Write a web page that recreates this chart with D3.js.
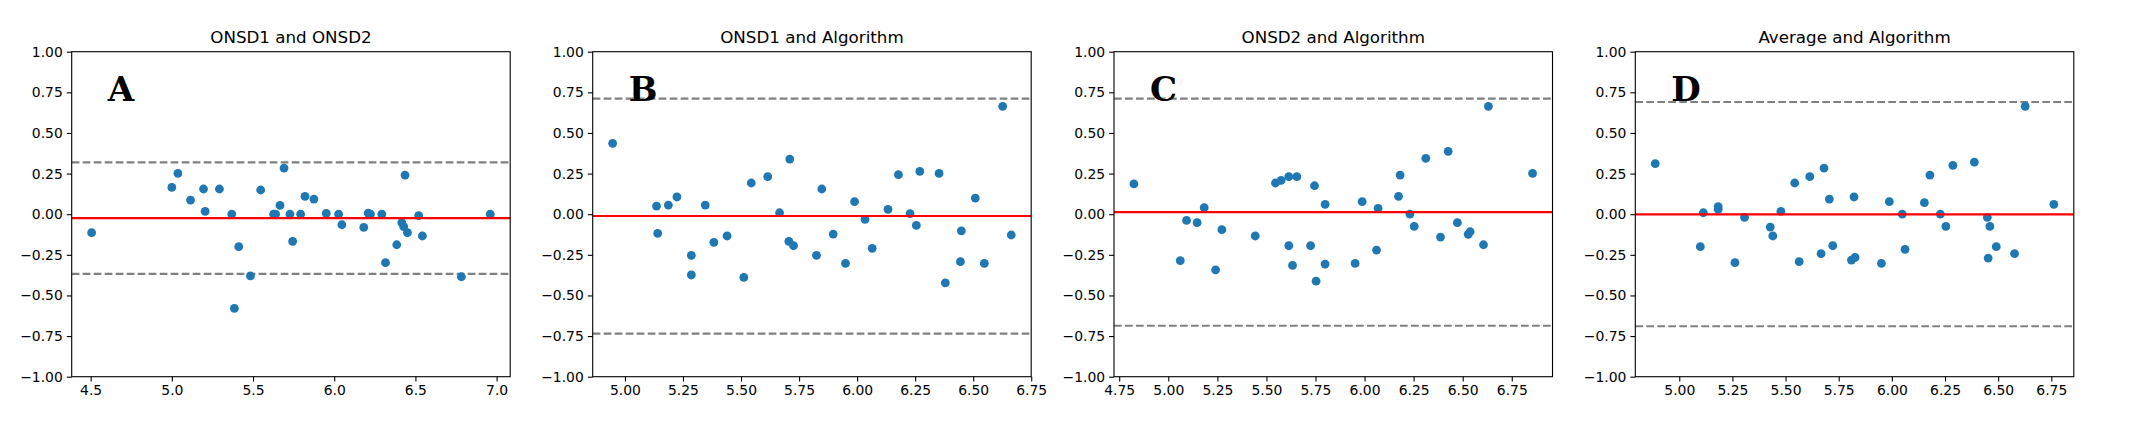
<!DOCTYPE html>
<html>
<head>
<meta charset="utf-8">
<script src="https://cdn.jsdelivr.net/npm/d3@7"></script>
<style>
  body { margin: 0; background: #fff; }
  svg { display: block; font-family: "DejaVu Sans", sans-serif; }
</style>
</head>
<body>
<svg id="chart" width="2130" height="424"></svg>
<script>
// Bland-Altman style panels: mean of two measurements (x) vs difference (y)
const titles = ['ONSD1 and ONSD2', 'ONSD1 and Algorithm', 'ONSD2 and Algorithm', 'Average and Algorithm'];
const letters = ['A', 'B', 'C', 'D'];

const meanA = [4.506, 5.000, 5.037, 5.115, 5.195, 5.205, 5.293, 5.369, 5.412, 5.385, 5.484, 5.547, 5.627, 5.639,
  5.666, 5.691, 5.727, 5.744, 5.793, 5.820, 5.875, 5.951, 6.027, 6.047, 6.182, 6.209, 6.223, 6.293, 6.316,
  6.385, 6.416, 6.428, 6.436, 6.451, 6.520, 6.543, 6.783, 6.961];
const diffA = [-0.114, 0.165, 0.251, 0.087, 0.155, 0.017, 0.155, 0.001, -0.200, -0.579, -0.380, 0.149, 0.0, 0.0,
  0.054, 0.284, 0.0, -0.167, 0.0, 0.110, 0.093, 0.005, 0.0, -0.065, -0.081, 0.007, 0.0, 0.0, -0.298,
  -0.188, -0.052, -0.077, 0.241, -0.114, -0.009, -0.134, -0.385, 0.0];

const meanB = [4.947, 5.136, 5.141, 5.187, 5.224, 5.286, 5.286, 5.346, 5.383, 5.440, 5.512, 5.544, 5.615, 5.666,
  5.706, 5.710, 5.726, 5.825, 5.848, 5.897, 5.950, 5.989, 6.034, 6.065, 6.133, 6.178, 6.228, 6.255, 6.270,
  6.353, 6.380, 6.445, 6.449, 6.509, 6.548, 6.627, 6.664];
const diffB = [0.436, 0.050, -0.118, 0.056, 0.106, -0.253, -0.374, 0.056, -0.173, -0.134, -0.389, 0.192, 0.231, 0.009,
  -0.167, 0.339, -0.194, -0.253, 0.155, -0.122, -0.303, 0.077, -0.032, -0.210, 0.030, 0.243, 0.003, -0.069, 0.263,
  0.251, -0.422, -0.292, -0.102, 0.099, -0.303, 0.664, -0.128];

const meanC = [4.825, 5.061, 5.093, 5.147, 5.183, 5.241, 5.273, 5.443, 5.546, 5.575, 5.614, 5.614, 5.633, 5.655,
  5.725, 5.745, 5.753, 5.799, 5.799, 5.952, 5.988, 6.061, 6.069, 6.173, 6.181, 6.231, 6.253, 6.312, 6.387,
  6.426, 6.473, 6.528, 6.538, 6.606, 6.631, 6.856];
const diffC = [0.186, -0.286, -0.038, -0.052, 0.040, -0.342, -0.095, -0.134, 0.192, 0.208, 0.231, -0.194, -0.315, 0.231,
  -0.194, 0.175, -0.412, 0.061, -0.307, -0.303, 0.077, -0.221, 0.036, 0.110, 0.241, 0.001, -0.075, 0.344, -0.141,
  0.387, -0.052, -0.124, -0.108, -0.188, 0.664, 0.251];

const meanD = [4.887, 5.099, 5.113, 5.183, 5.183, 5.262, 5.307, 5.428, 5.440, 5.478, 5.543, 5.564, 5.614, 5.667,
  5.681, 5.706, 5.722, 5.810, 5.827, 5.822, 5.951, 5.988, 6.049, 6.062, 6.153, 6.179, 6.228, 6.254, 6.287,
  6.388, 6.449, 6.453, 6.461, 6.491, 6.577, 6.627, 6.762];
const diffD = [0.311, -0.200, 0.009, 0.046, 0.030, -0.298, -0.019, -0.079, -0.134, 0.017, 0.192, -0.292, 0.231, -0.243,
  0.284, 0.093, -0.194, -0.282, -0.266, 0.106, -0.303, 0.077, 0.001, -0.216, 0.071, 0.241, 0.001, -0.075, 0.301,
  0.321, -0.019, -0.270, -0.075, -0.200, -0.243, 0.664, 0.061];

// bias and limits of agreement
const bias = [-0.024, -0.011, 0.013, -0.001];
const loaUpper = [0.319, 0.711, 0.711, 0.690];
const loaLower = [-0.367, -0.735, -0.686, -0.690];

const xTicksA = [4.5, 5.0, 5.5, 6.0, 6.5, 7.0];
const xTicksB = [5.0, 5.25, 5.5, 5.75, 6.0, 6.25, 6.5, 6.75];
const xTicksC = [4.75, 5.0, 5.25, 5.5, 5.75, 6.0, 6.25, 6.5, 6.75];
const xTicksD = [5.0, 5.25, 5.5, 5.75, 6.0, 6.25, 6.5, 6.75];
const yTicks = [-1.0, -0.75, -0.5, -0.25, 0.0, 0.25, 0.5, 0.75, 1.0];

const panels = [
  { x: meanA, y: diffA, ticks: xTicksA, fmt: '.1f' },
  { x: meanB, y: diffB, ticks: xTicksB, fmt: '.2f' },
  { x: meanC, y: diffC, ticks: xTicksC, fmt: '.2f' },
  { x: meanD, y: diffD, ticks: xTicksD, fmt: '.2f' }
];

const svg = d3.select('#chart');
const lefts = [71.7, 592.7, 1114, 1635.3];
const plotTop = 51.7, w = 438.5, h = 325;

panels.forEach((p, i) => {
  const g = svg.append('g').attr('transform', `translate(${lefts[i]},${plotTop})`);

  // matplotlib-like 5% margins on x
  const [lo, hi] = d3.extent(p.x);
  const pad = (hi - lo) * 0.05;
  const xScale = d3.scaleLinear().domain([lo - pad, hi + pad]).range([0, w]);
  const yScale = d3.scaleLinear().domain([-1, 1]).range([h, 0]);

  const xAxis = g.append('g')
    .attr('transform', `translate(0,${h})`)
    .call(d3.axisBottom(xScale).tickValues(p.ticks).tickFormat(d3.format(p.fmt)).tickSizeOuter(0).tickSize(4.9).tickPadding(4));
  const yAxis = g.append('g')
    .call(d3.axisLeft(yScale).tickValues(yTicks).tickFormat(d3.format('.2f')).tickSizeOuter(0).tickSize(4.9).tickPadding(4));
  [xAxis, yAxis].forEach(a => {
    a.select('.domain').remove();
    a.selectAll('line').attr('stroke', '#000').attr('stroke-width', 1.1);
    a.selectAll('text').attr('font-size', 13.9).attr('fill', '#000').attr('font-family', '"DejaVu Sans", sans-serif');
  });
  yAxis.selectAll('text').text(d => d3.format('.2f')(d).replace('-', '\u2212'));

  // limits of agreement
  [loaUpper[i], loaLower[i]].forEach(v => {
    g.append('line')
      .attr('x1', 0).attr('x2', w)
      .attr('y1', yScale(v)).attr('y2', yScale(v))
      .attr('stroke', '#808080').attr('stroke-width', 2.08)
      .attr('stroke-dasharray', '7.7,3.3');
  });

  g.selectAll('circle')
    .data(d3.zip(p.x, p.y))
    .join('circle')
    .attr('cx', d => xScale(d[0]))
    .attr('cy', d => yScale(d[1]))
    .attr('r', 4.4)
    .attr('fill', '#1f77b4');

  g.append('line')
    .attr('x1', 0).attr('x2', w)
    .attr('y1', yScale(bias[i])).attr('y2', yScale(bias[i]))
    .attr('stroke', 'red').attr('stroke-width', 2.08);

  g.append('rect')
    .attr('width', w).attr('height', h)
    .attr('fill', 'none').attr('stroke', '#000').attr('stroke-width', 1.1);

  g.append('text')
    .attr('x', w / 2).attr('y', -8.5)
    .attr('text-anchor', 'middle')
    .attr('font-size', 16.7)
    .text(titles[i]);

  g.append('text')
    .attr('x', 36).attr('y', 49.5)
    .attr('font-family', '"DejaVu Serif", serif')
    .attr('font-weight', 'bold')
    .attr('font-size', 34)
    .text(letters[i]);
});
</script>
</body>
</html>
